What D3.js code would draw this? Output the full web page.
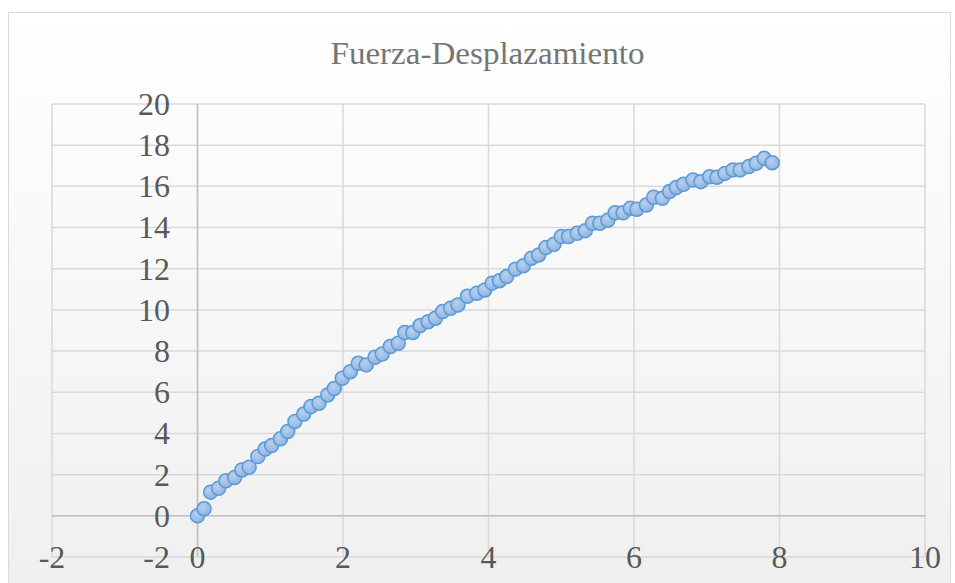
<!DOCTYPE html>
<html>
<head>
<meta charset="utf-8">
<script src="https://cdn.jsdelivr.net/npm/d3@7"></script>
<style>
  html, body { margin: 0; padding: 0; background: #ffffff; }
  svg { display: block; }
  text { font-family: "Liberation Serif", "DejaVu Serif", serif; }
</style>
</head>
<body>
<svg id="chart" width="955" height="583"></svg>
<script>
// Displacement (x) and force (y) readings
const desplazamiento = [
  0, 0.09, 0.18, 0.29, 0.39, 0.51, 0.61, 0.71, 0.83, 0.93,
  1.02, 1.14, 1.24, 1.34, 1.46, 1.56, 1.67, 1.79, 1.88, 1.99,
  2.10, 2.21, 2.32, 2.44, 2.54, 2.65, 2.76, 2.85, 2.96, 3.06,
  3.17, 3.27, 3.37, 3.48, 3.58, 3.71, 3.84, 3.95, 4.05, 4.15,
  4.25, 4.37, 4.48, 4.59, 4.69, 4.79, 4.90, 5.00, 5.10, 5.22,
  5.33, 5.43, 5.53, 5.64, 5.74, 5.85, 5.95, 6.04, 6.17, 6.27,
  6.39, 6.49, 6.58, 6.68, 6.81, 6.92, 7.04, 7.14, 7.25, 7.36,
  7.46, 7.58, 7.68, 7.79, 7.90
];
const fuerza = [
  0, 0.34, 1.15, 1.34, 1.70, 1.86, 2.23, 2.36, 2.88, 3.24,
  3.41, 3.74, 4.09, 4.58, 4.94, 5.31, 5.47, 5.87, 6.18, 6.68,
  7.00, 7.41, 7.33, 7.70, 7.86, 8.22, 8.38, 8.90, 8.90, 9.24,
  9.43, 9.60, 9.92, 10.08, 10.24, 10.66, 10.81, 10.97, 11.30, 11.42,
  11.62, 11.98, 12.14, 12.51, 12.67, 13.03, 13.19, 13.56, 13.56, 13.72,
  13.85, 14.21, 14.21, 14.35, 14.72, 14.72, 14.94, 14.89, 15.10, 15.47,
  15.42, 15.75, 15.94, 16.10, 16.31, 16.23, 16.47, 16.44, 16.63, 16.80,
  16.80, 16.96, 17.12, 17.36, 17.15
];
const xTicks = [-2, 0, 2, 4, 6, 8, 10];
const yTicks = [-2, 0, 2, 4, 6, 8, 10, 12, 14, 16, 18, 20];
const chartTitle = "Fuerza-Desplazamiento";

const points = desplazamiento.map((d, i) => ({ x: d, y: fuerza[i] }));

const svg = d3.select("#chart");
const plot = { left: 52, right: 925, top: 104, bottom: 557 };

const x = d3.scaleLinear().domain([-2, 10]).range([plot.left, plot.right]);
const y = d3.scaleLinear().domain([-2, 20]).range([plot.bottom, plot.top]);

const defs = svg.append("defs");
const bg = defs.append("linearGradient").attr("id", "bgGrad")
  .attr("x1", 0).attr("y1", 0).attr("x2", 0).attr("y2", 1);
bg.append("stop").attr("offset", "0%").attr("stop-color", "#ffffff");
bg.append("stop").attr("offset", "100%").attr("stop-color", "#efefef");

const mk = defs.append("radialGradient").attr("id", "markerGrad")
  .attr("cx", "40%").attr("cy", "35%").attr("r", "65%");
mk.append("stop").attr("offset", "0%").attr("stop-color", "#b9d0ee");
mk.append("stop").attr("offset", "100%").attr("stop-color", "#8fb4e2");

// Chart area with its light border
svg.append("rect")
  .attr("x", 8.5).attr("y", 12.5).attr("width", 942).attr("height", 590)
  .attr("fill", "url(#bgGrad)")
  .attr("stroke", "#d9d9d9").attr("stroke-width", 1);

// Title
svg.append("text")
  .attr("x", 487.5).attr("y", 64)
  .attr("text-anchor", "middle")
  .attr("font-size", 31)
  .attr("textLength", 314)
  .attr("lengthAdjust", "spacingAndGlyphs")
  .attr("fill", "#757575")
  .text(chartTitle);

// Gridlines
const grid = svg.append("g");
grid.selectAll("line.v").data(xTicks).join("line")
  .attr("class", "v")
  .attr("x1", d => x(d)).attr("x2", d => x(d))
  .attr("y1", plot.top).attr("y2", plot.bottom)
  .attr("stroke", "#d9d9d9").attr("stroke-width", 1.5);
grid.selectAll("line.h").data(yTicks).join("line")
  .attr("class", "h")
  .attr("x1", plot.left).attr("x2", plot.right)
  .attr("y1", d => y(d)).attr("y2", d => y(d))
  .attr("stroke", "#d9d9d9").attr("stroke-width", 1.5);

// Axis lines crossing at the origin
svg.append("line")
  .attr("x1", plot.left).attr("x2", plot.right)
  .attr("y1", y(0)).attr("y2", y(0))
  .attr("stroke", "#bfbfbf").attr("stroke-width", 1.5);
svg.append("line")
  .attr("x1", x(0)).attr("x2", x(0))
  .attr("y1", plot.top).attr("y2", plot.bottom)
  .attr("stroke", "#bfbfbf").attr("stroke-width", 1.5);

// Y tick labels
svg.append("g").selectAll("text").data(yTicks).join("text")
  .attr("x", 170).attr("y", d => y(d))
  .attr("dy", "0.34em")
  .attr("text-anchor", "end")
  .attr("font-size", 32)
  .attr("fill", "#595959")
  .text(d => d);

// X tick labels along the bottom
svg.append("g").selectAll("text").data(xTicks).join("text")
  .attr("x", d => x(d)).attr("y", plot.bottom)
  .attr("dy", "0.34em")
  .attr("text-anchor", "middle")
  .attr("font-size", 32)
  .attr("fill", "#595959")
  .text(d => d);

// Markers
svg.append("g").selectAll("circle").data(points).join("circle")
  .attr("cx", d => x(d.x)).attr("cy", d => y(d.y))
  .attr("r", 7)
  .attr("fill", "url(#markerGrad)")
  .attr("stroke", "#5b9bd5").attr("stroke-width", 1.5);
</script>
</body>
</html>
